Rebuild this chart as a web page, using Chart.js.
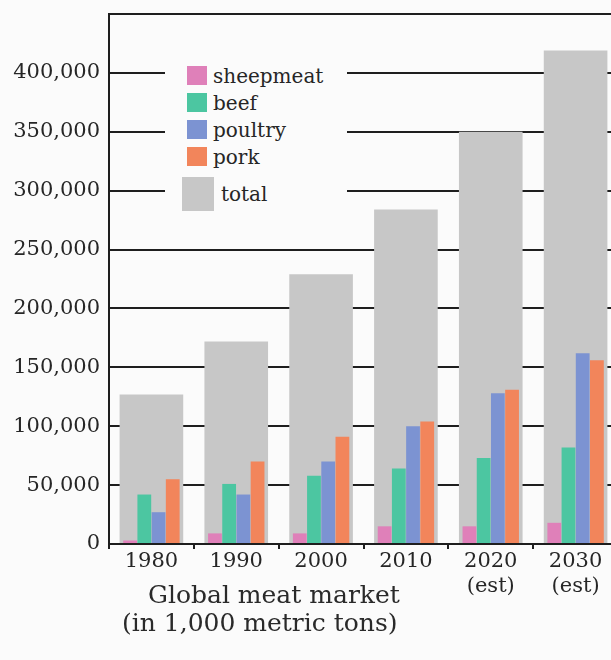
<!DOCTYPE html>
<html>
<head>
<meta charset="utf-8">
<script src="https://cdn.jsdelivr.net/npm/chart.js@4"></script>
<style>
  html, body { margin: 0; padding: 0; background: #fbfbfb; overflow: hidden; }
  #wrap { position: relative; width: 618px; height: 660px; }
  #legend {
    position: absolute; left: 165px; top: 55px; width: 182px; height: 168px;
    background: #fbfbfb; font-family: "DejaVu Serif", serif; font-size: 20px; color: #262626;
    padding-top: 7px; box-sizing: border-box;
  }
  .row { display: flex; align-items: center; height: 27px; padding-left: 22px; }
  .row .box { width: 20px; height: 19px; margin-right: 6px; }
  .row.big { height: 36px; padding-left: 17px; margin-top: 6px; }
  .row.big .box { width: 32px; height: 34px; margin-right: 7px; }
  .title { position: absolute; font-family: "DejaVu Serif", serif; font-size: 25px; color: #2a2a2a; white-space: nowrap; }
</style>
</head>
<body>
<div id="wrap">
  <canvas id="myChart"></canvas>
  <div id="legend"></div>
  <div class="title" style="left:148px; top:580px;">Global meat market</div>
  <div class="title" style="left:122px; top:608px;">(in 1,000 metric tons)</div>
</div>
<script>
const labels = [['1980'], ['1990'], ['2000'], ['2010'], ['2020', '(est)'], ['2030', '(est)']];
const sheepmeat = [3000, 9000, 9000, 15000, 15000, 18000];
const beef = [42000, 51000, 58000, 64000, 73000, 82000];
const poultry = [27000, 42000, 70000, 100000, 128000, 162000];
const pork = [55000, 70000, 91000, 104000, 131000, 156000];
const total = [127000, 172000, 229000, 284000, 350000, 419000];

const colored = { categoryPercentage: 0.67, barPercentage: 0.97 };

const dataConfig = {
  labels: labels,
  datasets: [
    { label: 'sheepmeat', data: sheepmeat, backgroundColor: '#df80b9', ...colored },
    { label: 'beef', data: beef, backgroundColor: '#4cc6a1', ...colored },
    { label: 'poultry', data: poultry, backgroundColor: '#7c93d2', ...colored },
    { label: 'pork', data: pork, backgroundColor: '#f2855b', ...colored },
    // drawn behind the others, full category slot
    { label: 'total', data: total, backgroundColor: '#c7c7c7', grouped: false, categoryPercentage: 1, barPercentage: 0.75 }
  ]
};

const fontTick = { family: 'DejaVu Serif', size: 21 };

const config = {
  type: 'bar',
  data: dataConfig,
  options: {
    responsive: true,
    maintainAspectRatio: false,
    animation: false,
    layout: { padding: { top: 14, right: 0, left: 0, bottom: 0 } },
    plugins: { legend: { display: false }, tooltip: { enabled: false } },
    scales: {
      x: {
        grid: { display: true, drawOnChartArea: false, drawTicks: true, tickLength: 5, color: '#1e1e1e', lineWidth: 2 },
        border: { display: true, color: '#1e1e1e', width: 2 },
        ticks: { font: fontTick, color: '#262626', padding: 0, maxRotation: 0 },
        afterFit: (s) => { s.height = 116; s.paddingLeft = 0; s.paddingRight = 0; }
      },
      y: {
        min: 0,
        max: 450000,
        grid: { color: '#1e1e1e', lineWidth: 2, drawTicks: false },
        border: { display: true, color: '#1e1e1e', width: 2 },
        ticks: {
          stepSize: 50000,
          font: fontTick,
          color: '#262626',
          padding: 9,
          callback: (v) => v >= 450000 ? '' : v.toLocaleString('en-US')
        },
        afterFit: (s) => { s.width = 109; s.paddingTop = 0; s.paddingBottom = 0; }
      }
    }
  }
};

const chart = new Chart(document.getElementById('myChart'), config);

// html legend built from the datasets
const legend = document.getElementById('legend');
chart.data.datasets.forEach((ds) => {
  const row = document.createElement('div');
  row.className = ds.label === 'total' ? 'row big' : 'row';
  row.innerHTML = `<span class="box" style="background:${ds.backgroundColor}"></span><span>${ds.label}</span>`;
  legend.appendChild(row);
});
</script>
</body>
</html>
